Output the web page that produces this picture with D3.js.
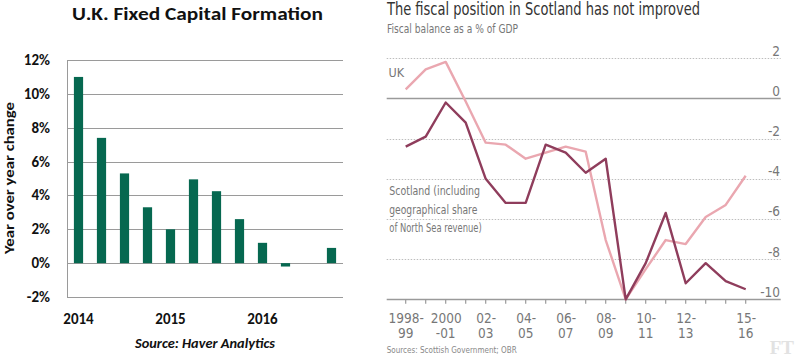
<!DOCTYPE html>
<html>
<head>
<meta charset="utf-8">
<script src="https://cdn.jsdelivr.net/npm/d3@7"></script>
<style>
  html, body { margin: 0; padding: 0; background: #fff; }
  svg { display: block; }
  .l { font-family: Carlito, Lato, "Open Sans", sans-serif; }
  .r { font-family: "Liberation Sans Narrow", "DejaVu Sans Condensed", "Roboto", sans-serif; }
</style>
</head>
<body>
<svg id="chart" width="800" height="358"></svg>
<script>
// ---------- Left chart data ----------
const quarters = ["2014Q1","2014Q2","2014Q3","2014Q4","2015Q1","2015Q2","2015Q3","2015Q4","2016Q1","2016Q2","2016Q3","2016Q4"];
const gfcfGrowth = [11.0, 7.4, 5.3, 3.3, 2.0, 4.95, 4.25, 2.6, 1.2, -0.2, 0.0, 0.9];
const leftYTicks = [-2, 0, 2, 4, 6, 8, 10, 12];
const leftXLabels = [{q: "2014Q1", text: "2014"}, {q: "2015Q1", text: "2015"}, {q: "2016Q1", text: "2016"}];

// ---------- Right chart data ----------
const fiscalYears = ["1998-99","1999-00","2000-01","2001-02","2002-03","2003-04","2004-05","2005-06","2006-07","2007-08","2008-09","2009-10","2010-11","2011-12","2012-13","2013-14","2014-15","2015-16"];
const ukBalance = [0.45, 1.45, 1.82, -0.15, -2.2, -2.3, -3.0, -2.7, -2.4, -2.65, -7.05, -10.0, -8.5, -7.05, -7.25, -5.9, -5.3, -3.85];
const scotlandBalance = [-2.4, -1.9, -0.2, -1.2, -4.0, -5.2, -5.2, -2.3, -2.7, -3.7, -3.0, -10.0, -8.2, -5.7, -9.2, -8.2, -9.1, -9.5];
const rightYTicks = [2, 0, -2, -4, -6, -8, -10];
const rightXLabels = [
  {i: 0, l1: "1998-", l2: "99"},
  {i: 2, l1: "2000", l2: "-01"},
  {i: 4, l1: "02-", l2: "03"},
  {i: 6, l1: "04-", l2: "05"},
  {i: 8, l1: "06-", l2: "07"},
  {i: 10, l1: "08-", l2: "09"},
  {i: 12, l1: "10-", l2: "11"},
  {i: 14, l1: "12-", l2: "13"},
  {i: 17, l1: "15-", l2: "16"}
];

const svg = d3.select("#chart");

// shrink a text to a target width if it is wider
function fit(sel, w) {
  sel.each(function () {
    const len = this.getComputedTextLength();
    if (len > w || len < w * 0.94) {
      d3.select(this).attr("textLength", w).attr("lengthAdjust", "spacingAndGlyphs");
    }
  });
}

// ================= LEFT CHART =================
const L = svg.append("g").attr("class", "l");
const lx = d3.scaleBand().domain(quarters).range([67, 343]).paddingInner(0.6).paddingOuter(0.3);
const ly = d3.scaleLinear().domain([-2, 12]).range([297, 60]);

L.append("text").attr("x", 197.5).attr("y", 20).attr("text-anchor", "middle")
  .attr("font-size", 19).attr("font-weight", "bold").attr("fill", "#111")
  .text("U.K. Fixed Capital Formation").call(fit, 251);

// gridlines
L.append("g").selectAll("line").data(leftYTicks).join("line")
  .attr("x1", 67).attr("x2", 343)
  .attr("y1", d => Math.round(ly(d)) + 0.5).attr("y2", d => Math.round(ly(d)) + 0.5)
  .attr("stroke", "#9a9a9a").attr("stroke-width", 1);

// y axis line
L.append("line").attr("x1", 67.5).attr("x2", 67.5).attr("y1", ly(12)).attr("y2", ly(-2))
  .attr("stroke", "#9a9a9a");

// y tick labels
L.append("g").selectAll("text").data(leftYTicks).join("text")
  .attr("x", 50).attr("y", d => ly(d) + 5).attr("text-anchor", "end")
  .attr("font-size", 15).attr("font-weight", "bold").attr("fill", "#111")
  .text(d => d + "%");

// bars
L.append("g").selectAll("rect").data(quarters.map((q, i) => ({q, v: gfcfGrowth[i]}))).join("rect")
  .attr("x", d => lx(d.q)).attr("width", lx.bandwidth())
  .attr("y", d => ly(Math.max(0, d.v))).attr("height", d => Math.abs(ly(d.v) - ly(0)))
  .attr("fill", "#066850");

// x labels
L.append("g").selectAll("text").data(leftXLabels).join("text")
  .attr("x", d => lx(d.q) + lx.bandwidth() / 2).attr("y", 324).attr("text-anchor", "middle")
  .attr("font-size", 15).attr("font-weight", "bold").attr("fill", "#111")
  .text(d => d.text);

// y axis title
L.append("text").attr("transform", "translate(14,178) rotate(-90)").attr("text-anchor", "middle")
  .attr("font-size", 14.5).attr("font-weight", "bold").attr("fill", "#111")
  .text("Year over year change").call(fit, 152);

// source
L.append("text").attr("x", 205).attr("y", 348).attr("text-anchor", "middle")
  .attr("font-size", 13.5).attr("font-weight", "bold").attr("font-style", "italic").attr("fill", "#111")
  .text("Source: Haver Analytics").call(fit, 140);

// ================= RIGHT CHART =================
const R = svg.append("g").attr("class", "r");
const rx = d3.scaleLinear().domain([0, fiscalYears.length - 1]).range([405.7, 745.7]);
const ry = d3.scaleLinear().domain([-10, 2]).range([299.3, 58.3]);

R.append("text").attr("x", 387).attr("y", 15).attr("font-size", 17).attr("fill", "#333")
  .text("The fiscal position in Scotland has not improved").call(fit, 313);
R.append("text").attr("x", 387).attr("y", 33).attr("font-size", 11.5).attr("fill", "#777")
  .text("Fiscal balance as a % of GDP").call(fit, 131);

// gridlines
R.append("g").selectAll("line").data(rightYTicks).join("line")
  .attr("x1", 386.7).attr("x2", 780.7)
  .attr("y1", d => Math.round(ry(d)) + 0.5).attr("y2", d => Math.round(ry(d)) + 0.5)
  .attr("stroke", d => (d === 0 || d === -10) ? "#9a9a9a" : "#bdbdbd")
  .attr("stroke-width", d => (d === 0 || d === -10) ? 1.3 : 1)
  .attr("stroke-dasharray", d => (d === 0 || d === -10) ? null : "1.5,1.5");

// y labels
R.append("g").selectAll("text").data(rightYTicks).join("text")
  .attr("x", 780).attr("y", d => ry(d) - 2.5).attr("text-anchor", "end")
  .attr("font-size", 13.5).attr("fill", "#777")
  .text(d => d);

// x ticks
R.append("g").selectAll("line").data(fiscalYears.map((d, i) => i)).join("line")
  .attr("x1", d => rx(d)).attr("x2", d => rx(d))
  .attr("y1", ry(-10)).attr("y2", ry(-10) + 4.5)
  .attr("stroke", "#9a9a9a").attr("stroke-width", 1.2);

// x labels
const xl = R.append("g").selectAll("g").data(rightXLabels).join("g");
xl.append("text").attr("x", d => rx(d.i) + 0.5).attr("y", 323).attr("text-anchor", "middle")
  .attr("font-size", 13.5).attr("fill", "#777").text(d => d.l1);
xl.append("text").attr("x", d => rx(d.i)).attr("y", 337.5).attr("text-anchor", "middle")
  .attr("font-size", 13.5).attr("fill", "#777").text(d => d.l2);

// lines
const lineGen = d3.line().x((d, i) => rx(i)).y(d => ry(d));
R.append("path").datum(ukBalance).attr("d", lineGen)
  .attr("fill", "none").attr("stroke", "#eaa7b0").attr("stroke-width", 2.4).attr("stroke-linejoin", "round");
R.append("path").datum(scotlandBalance).attr("d", lineGen)
  .attr("fill", "none").attr("stroke", "#8f3d5c").attr("stroke-width", 2.4).attr("stroke-linejoin", "round");

// series labels
R.append("text").attr("x", 388.5).attr("y", 76.7).attr("font-size", 12.5).attr("fill", "#777").text("UK");
const scotLines = ["Scotland (including", "geographical share", "of North Sea revenue)"];
const scotWidths = [90.7, 88, 92.4];
R.append("g").selectAll("text").data(scotLines).join("text")
  .attr("x", 389.3).attr("y", (d, i) => 195 + i * 18.5).attr("font-size", 13).attr("fill", "#777")
  .text(d => d)
  .each(function (d, i) { d3.select(this).call(fit, scotWidths[i]); });

// sources
R.append("text").attr("x", 386.7).attr("y", 353).attr("font-size", 9.5).attr("fill", "#888")
  .text("Sources: Scottish Government; OBR").call(fit, 130);

// FT watermark
R.append("text").attr("x", 794).attr("y", 354).attr("text-anchor", "end")
  .attr("font-family", "'Liberation Serif', 'DejaVu Serif', serif").attr("font-weight", "bold")
  .attr("font-size", 19).attr("fill", "#e2e2e2").text("FT");
</script>
</body>
</html>
